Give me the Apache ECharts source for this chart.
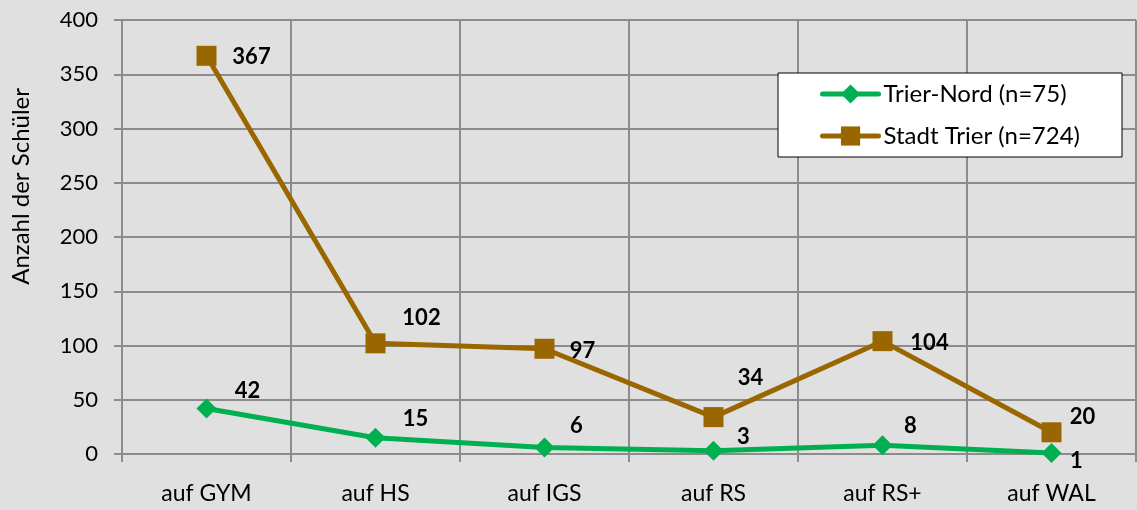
<!DOCTYPE html>
<html>
<head>
    <meta charset="utf-8">
    <title>Anzahl der Schüler</title>
    <script src="https://cdn.jsdelivr.net/npm/echarts@6/dist/echarts.min.js"></script>
</head>
<body style="margin:0;background:#e0e0e0;">
    <div id='main' style='width:1137px;height:510px;'></div>
    <script>
        var categories = ['auf GYM', 'auf HS', 'auf IGS', 'auf RS', 'auf RS+', 'auf WAL'];
        var trierNord = [42, 15, 6, 3, 8, 1];
        var stadtTrier = [367, 102, 97, 34, 104, 20];
        // label offsets per point (so labels sit like in the original)
        var nordOffsets = [[41, -18], [40, -19], [32, -22], [30, -14], [28, -19], [25, 8]];
        var stadtOffsets = [[45, 1], [46, -25], [38, 2], [37, -39], [47, 2], [31, -15]];

        var font = 'Lato, "Open Sans", sans-serif';
        var gridColor = '#8c8c8c';

        function withLabels(values, offsets) {
            return values.map(function (v, i) {
                return { value: v, label: { offset: offsets[i] } };
            });
        }

        var myChart = echarts.init(document.getElementById('main'));
        myChart.setOption({
            animation: false,
            backgroundColor: '#e0e0e0',
            grid: { left: 122, right: 1, top: 20, bottom: 56 },
            legend: {
                right: 15, top: 73,
                orient: 'vertical',
                backgroundColor: '#fff',
                borderColor: '#000',
                borderWidth: 1,
                padding: [9, 42, 9, 42],
                itemGap: 18,
                itemWidth: 56,
                itemHeight: 24,
                lineStyle: { width: 5, cap: 'round' },
                textStyle: { fontFamily: font, fontSize: 24, color: '#000' },
                data: ['Trier-Nord (n=75)', 'Stadt Trier (n=724)']
            },
            graphic: [{
                type: 'text',
                left: 9,
                top: 88,
                rotation: Math.PI / 2,
                style: { text: 'Anzahl der Schüler', fontFamily: font, fontSize: 24, fill: '#000' }
            }],
            xAxis: {
                type: 'category',
                data: categories,
                boundaryGap: true,
                axisLine: { show: true, lineStyle: { color: gridColor, width: 2 } },
                axisTick: { show: true, length: 8, lineStyle: { color: gridColor, width: 2 } },
                axisLabel: { fontFamily: font, fontSize: 23, color: '#000', margin: 28 },
                splitLine: { show: true, lineStyle: { color: gridColor, width: 2 } }
            },
            yAxis: {
                type: 'value',
                min: 0, max: 400, interval: 50,
                axisLine: { show: true, lineStyle: { color: gridColor, width: 2 } },
                axisTick: { show: true, length: 8, lineStyle: { color: gridColor, width: 2 } },
                axisLabel: { fontFamily: font, fontSize: 22, color: '#000', margin: 24 },
                splitLine: { show: true, lineStyle: { color: gridColor, width: 2 } }
            },
            series: [{
                name: 'Trier-Nord (n=75)',
                type: 'line',
                data: withLabels(trierNord, nordOffsets),
                color: '#00b050',
                lineStyle: { width: 5 },
                symbol: 'diamond',
                symbolSize: 20,
                label: { show: true, position: 'inside', fontFamily: font, fontSize: 22, fontWeight: 'bold', color: '#000' },
                z: 3
            }, {
                name: 'Stadt Trier (n=724)',
                type: 'line',
                data: withLabels(stadtTrier, stadtOffsets),
                color: '#996600',
                lineStyle: { width: 5 },
                symbol: 'rect',
                symbolSize: 20,
                label: { show: true, position: 'inside', fontFamily: font, fontSize: 22, fontWeight: 'bold', color: '#000' },
                z: 2
            }]
        });
    </script>
</body>
</html>
